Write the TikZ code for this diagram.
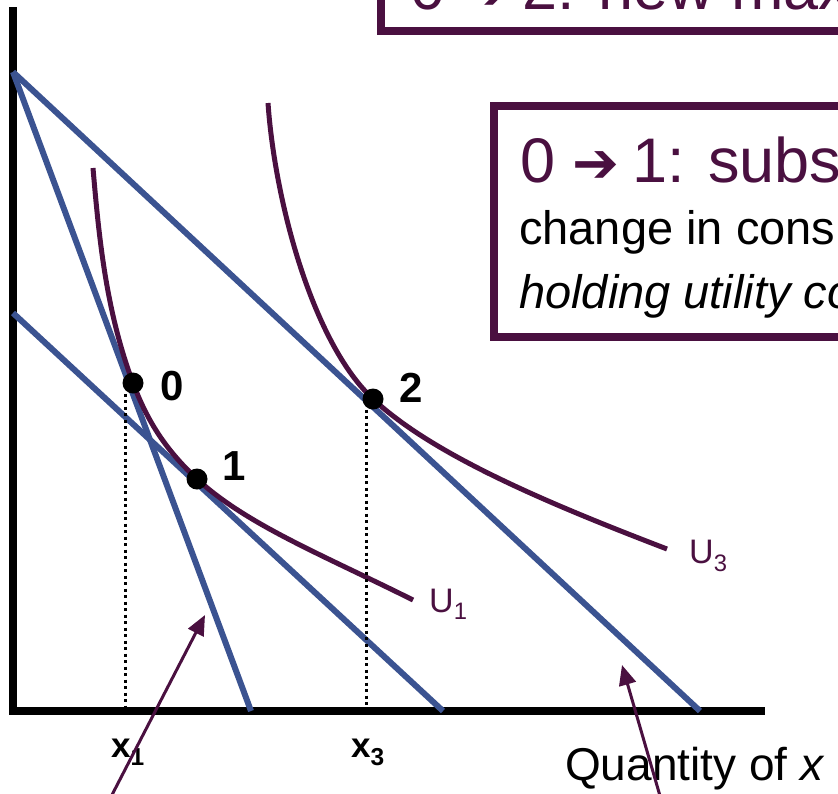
\documentclass[tikz,border=0pt]{standalone}
\usepackage{fontspec}
\setmainfont{Liberation Sans}
\newfontfamily\djv{DejaVu Sans}
\usetikzlibrary{arrows.meta}
\definecolor{plum}{HTML}{4A1040}
\definecolor{bline}{HTML}{3B5391}
\begin{document}
\begin{tikzpicture}[x=1pt,y=-1pt,
  boxst/.style={draw=plum,line width=8pt,fill=white},
  budget/.style={draw=bline,line width=6pt},
  icurve/.style={draw=plum,line width=5pt},
  axisst/.style={draw=black,line width=8pt},
  guide/.style={draw=black,line width=3pt,dash pattern=on 3pt off 3.5pt},
  dotst/.style={circle,fill=black,inner sep=0pt,minimum size=21pt},
  txt/.style={anchor=base west,inner sep=0pt},
  ptlab/.style={txt,font=\fontsize{42}{42}\selectfont\bfseries},
  ulab/.style={txt,text=plum,font=\fontsize{34}{34}\selectfont},
  arrowst/.style={draw=plum,line width=3pt,-{Triangle[length=20pt,width=17pt]}}]
\useasboundingbox (0,0) rectangle (838,793);
\clip (0,0) rectangle (838,793);
% boxes
\draw[boxst] (381,-120) rectangle (950,31);
\node[txt,text=plum,font=\fontsize{63}{63}\selectfont] (t2) at (410,9) {0 {\djv\fontsize{56}{56}\selectfont ➔}\hspace{0.2em}2: new maximum};
\draw[boxst] (494,106) rectangle (950,337);
\node[txt,text=plum,font=\fontsize{63}{63}\selectfont] (t1) at (520,182) {0 {\djv\fontsize{56}{56}\selectfont ➔}\hspace{0.2em}1: substitution effect};
\node[txt,font=\fontsize{47}{47}\selectfont] (t1b) at (519,244) {change in consumption};
\node[txt,font=\fontsize{47}{47}\selectfont\itshape] (t1c) at (519,308) {holding utility constant};
% axes
\draw[axisst] (13,7) -- (13,711) -- (765,711);
% budget lines
\coordinate (a0) at (13,72);
\coordinate (a1) at (13,313);
\coordinate (e0) at (251,711);
\coordinate (e1) at (443,711);
\coordinate (e2) at (700,711);
\draw[budget] (a0) -- (e0);
\draw[budget] (a0) -- (e2);
\draw[budget] (a1) -- (e1);
% indifference curves
\draw[icurve] (93,168) .. controls (99,238) and (106,311) .. (133,383)
   .. controls (148,423) and (167,451) .. (197,479)
   .. controls (247,525) and (323,555) .. (413,600);
\draw[icurve] (268,103) .. controls (275,203) and (313,343) .. (373,399)
   .. controls (433,455) and (547,503) .. (667,549);
% points
\node[dotst] (p0) at (133,383) {};
\node[dotst] (p1) at (197,479) {};
\node[dotst] (p2) at (373,399) {};
\node[ptlab] (l0) at (160,400) {0};
\node[ptlab] (l1) at (222,480) {1};
\node[ptlab] (l2) at (399,402) {2};
% guides
\coordinate (g0) at (125,708);
\coordinate (g2) at (366,708);
\draw[guide] (g0 |- p0.south) -- (g0);
\draw[guide] (g2 |- p2.south) -- (g2);
% curve labels
\node[ulab] (u1) at (429,612) {U\textsubscript{1}};
\node[ulab] (u3) at (689,563) {U\textsubscript{3}};
% axis labels
\node[txt,font=\fontsize{35}{35}\selectfont\bfseries] (x1) at (111,757) {x\textsubscript{1}};
\node[txt,font=\fontsize{35}{35}\selectfont\bfseries] (x3) at (351,757) {x\textsubscript{3}};
\node[txt,font=\fontsize{46}{46}\selectfont] (qx) at (565,780) {Quantity of \textit{x}};
% arrows
\coordinate (s1) at (99,820);
\coordinate (h1) at (205,615);
\coordinate (s2) at (667,820);
\coordinate (h2) at (622,665);
\draw[arrowst] (s1) -- (h1);
\draw[arrowst] (s2) -- (h2);
\end{tikzpicture}
\end{document}
